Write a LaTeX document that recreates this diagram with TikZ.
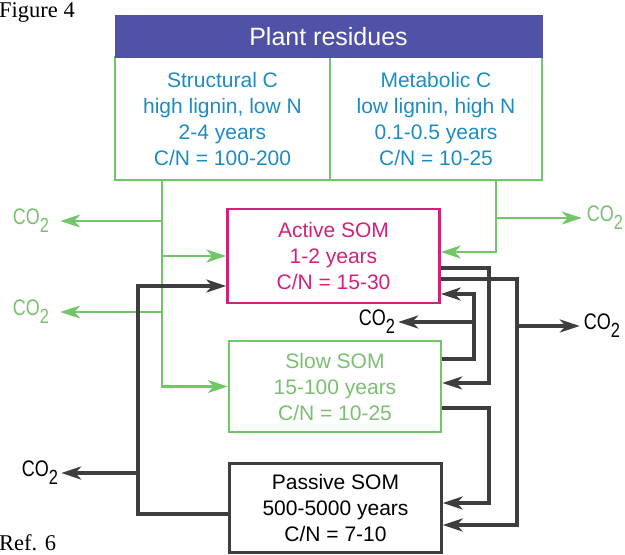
\documentclass[tikz,border=0pt]{standalone}
\usepackage{fontspec}
\setmainfont{Liberation Sans}
\newfontfamily\serifface{Liberation Serif}
\usetikzlibrary{arrows.meta,calc}
\definecolor{hdr}{RGB}{80,82,168}
\definecolor{lgreen}{RGB}{112,198,104}
\definecolor{cblue}{RGB}{30,140,196}
\definecolor{mag}{RGB}{210,34,122}
\definecolor{sgreen}{RGB}{122,192,112}
\definecolor{dgray}{RGB}{62,62,64}
\newcommand{\cotwo}{\scalebox{0.8}[1]{CO\raisebox{-8pt}{\fontsize{20.5}{20}\selectfont 2}}}
\begin{document}
\begin{tikzpicture}[x=1pt,y=-1pt,
  arr/.style={-{Stealth[length=20pt,width=13pt,inset=6pt]}},
  gline/.style={draw=lgreen,line width=2.8pt},
  kline/.style={draw=dgray,line width=3.3pt},
  txt/.style={align=center,font=\fontsize{21}{26}\selectfont,inner sep=0pt},
  cell/.style={txt,draw=lgreen,line width=2.5pt,minimum height=123pt},
  som/.style={txt,line width=2.5pt,minimum width=212pt},
  colab/.style={inner sep=0pt,font=\fontsize{22.5}{24}\selectfont},
  line join=miter]
\useasboundingbox (0,0) rectangle (625,555);

% captions
\node[anchor=base west,inner sep=0pt,font=\serifface\fontsize{22.5}{26}\selectfont] (fig) at (-1,17) {Figure 4};
\node[anchor=base west,inner sep=0pt,font=\serifface\fontsize{22.5}{26}\selectfont] (ref) at (-1,550) {Ref. 6};

% plant residues
\node[cell,text=cblue,minimum width=215pt] (struct) at (222.5,118.5) {Structural C\\high lignin, low N\\2-4 years\\C/N = 100-200};
\node[cell,text=cblue,minimum width=212pt] (metab) at (436,118.5) {Metabolic C\\low lignin, high N\\0.1-0.5 years\\C/N = 10-25};
\node[fill=hdr,draw=hdr,line width=1pt,text=white,inner sep=0pt,minimum width=427pt,minimum height=42pt,font=\fontsize{25}{30}\selectfont] (plant) at (328.5,36.5) {Plant residues};

% SOM pools
\node[som,draw=mag,text=mag,minimum height=94pt] (active) at (333.5,256) {Active SOM\\1-2 years\\C/N = 15-30};
\node[som,draw=lgreen,text=sgreen,minimum height=91pt] (slow) at (335,386.5) {Slow SOM\\15-100 years\\C/N = 10-25};
\node[som,draw=dgray,text=black,minimum height=89pt] (passive) at (335.5,508) {Passive SOM\\500-5000 years\\C/N = 7-10};

% CO2 labels
\node[colab,text=sgreen] (cgl1) at (31,221) {\cotwo};
\node[colab,text=sgreen] (cgl2) at (31,312) {\cotwo};
\node[colab,text=sgreen] (cgr) at (605,218) {\cotwo};
\node[colab] (ckm) at (377,322) {\cotwo};
\node[colab] (ckr) at (602,326) {\cotwo};
\node[colab] (ckl) at (40,473) {\cotwo};

% green flows
\draw[gline,arr] (struct.south -| 162,0) |- (slow.west);
\draw[gline,arr] (162,256) -- (active.west);
\draw[gline,arr,shorten >=11pt] (162,221) -- (cgl1.east);
\draw[gline,arr,shorten >=11pt] (162,312) -- (cgl2.east);
\draw[gline,arr] (metab.south -| 496,0) |- ([yshift=4pt]active.east);
\draw[gline,arr,shorten >=5pt] (496,218) -- (cgr.west);

% black flows
\draw[kline,arr] ([yshift=-6pt]passive.west) -| (138,400) |- ([yshift=-30pt]active.west);
\draw[kline,arr,shorten >=3pt] (138,473) -- (ckl.east);
\draw[kline,arr] ([yshift=-12pt]active.east) -| (489,330) |- ([yshift=3.5pt]slow.east);
\draw[kline,arr] ([yshift=-23pt]active.east) -| (517,400) |- ([yshift=-17pt]passive.east);
\draw[kline,arr] ([yshift=27.5pt]slow.east) -| (474,330) |- ([yshift=-38pt]active.east);
\draw[kline,arr] ([yshift=-21.5pt]slow.east) -| (489,450) |- ([yshift=5pt]passive.east);
\draw[kline,arr,shorten >=3pt] (474,322) -- (ckm.east);
\draw[kline,arr,shorten >=4pt] (517,326) -- (ckr.west);
\end{tikzpicture}
\end{document}
